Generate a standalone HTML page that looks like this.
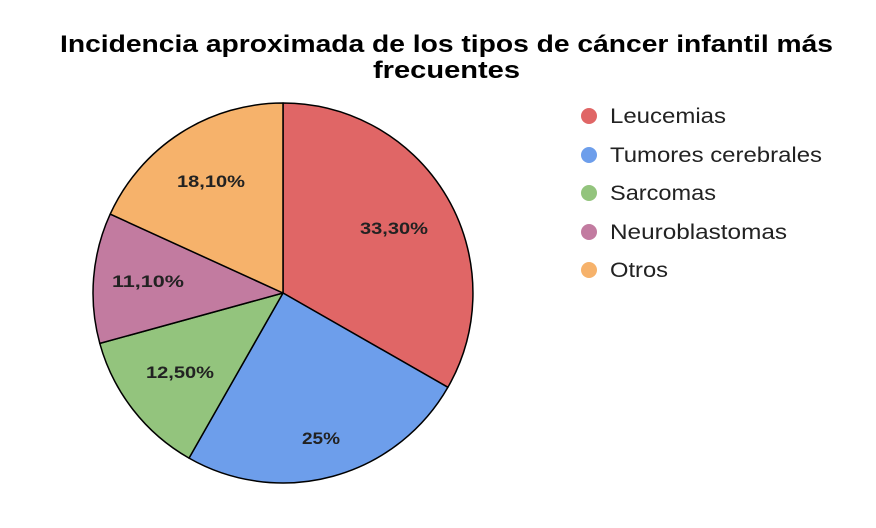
<!DOCTYPE html>
<html><head><meta charset="utf-8"><style>
html,body{margin:0;padding:0;background:#fff;}
svg{display:block;font-family:"Liberation Sans",Arial,sans-serif;}
</style></head><body>
<svg width="876" height="528" viewBox="0 0 876 528">
<rect width="876" height="528" fill="#fff"/>
<text x="60" y="52" font-size="24" font-weight="bold" fill="#000" textLength="773" lengthAdjust="spacingAndGlyphs">Incidencia aproximada de los tipos de cáncer infantil más</text>
<text x="373" y="78" font-size="24" font-weight="bold" fill="#000" textLength="147" lengthAdjust="spacingAndGlyphs">frecuentes</text>
<g stroke="#000" stroke-width="1.5" stroke-linejoin="round">
<path d="M283,293 L283,103 A190,190 0 0 1 447.9,387.3 Z" fill="#e06666"/>
<path d="M283,293 L447.9,387.3 A190,190 0 0 1 189.0,458.1 Z" fill="#6d9eeb"/>
<path d="M283,293 L189.0,458.1 A190,190 0 0 1 99.8,343.4 Z" fill="#93c47d"/>
<path d="M283,293 L99.8,343.4 A190,190 0 0 1 110.2,214.1 Z" fill="#c27ba0"/>
<path d="M283,293 L110.2,214.1 A190,190 0 0 1 283,103 Z" fill="#f6b26b"/>
</g>
<g font-size="17" font-weight="bold" fill="#222">
<text x="360" y="234" textLength="68" lengthAdjust="spacingAndGlyphs">33,30%</text>
<text x="302" y="444" textLength="38" lengthAdjust="spacingAndGlyphs">25%</text>
<text x="146" y="378" textLength="68" lengthAdjust="spacingAndGlyphs">12,50%</text>
<text x="112" y="287" textLength="72" lengthAdjust="spacingAndGlyphs">11,10%</text>
<text x="177" y="187" textLength="68" lengthAdjust="spacingAndGlyphs">18,10%</text>
</g>
<g font-size="21" fill="#222">
<circle cx="589" cy="116" r="8" fill="#e06666"/><text x="610" y="123" textLength="116" lengthAdjust="spacingAndGlyphs">Leucemias</text>
<circle cx="589" cy="155" r="8" fill="#6d9eeb"/><text x="610" y="162" textLength="212" lengthAdjust="spacingAndGlyphs">Tumores cerebrales</text>
<circle cx="589" cy="193" r="8" fill="#93c47d"/><text x="610" y="200" textLength="106" lengthAdjust="spacingAndGlyphs">Sarcomas</text>
<circle cx="589" cy="232" r="8" fill="#c27ba0"/><text x="610" y="239" textLength="177" lengthAdjust="spacingAndGlyphs">Neuroblastomas</text>
<circle cx="589" cy="270" r="8" fill="#f6b26b"/><text x="610" y="277" textLength="58" lengthAdjust="spacingAndGlyphs">Otros</text>
</g>
</svg>
</body></html>
